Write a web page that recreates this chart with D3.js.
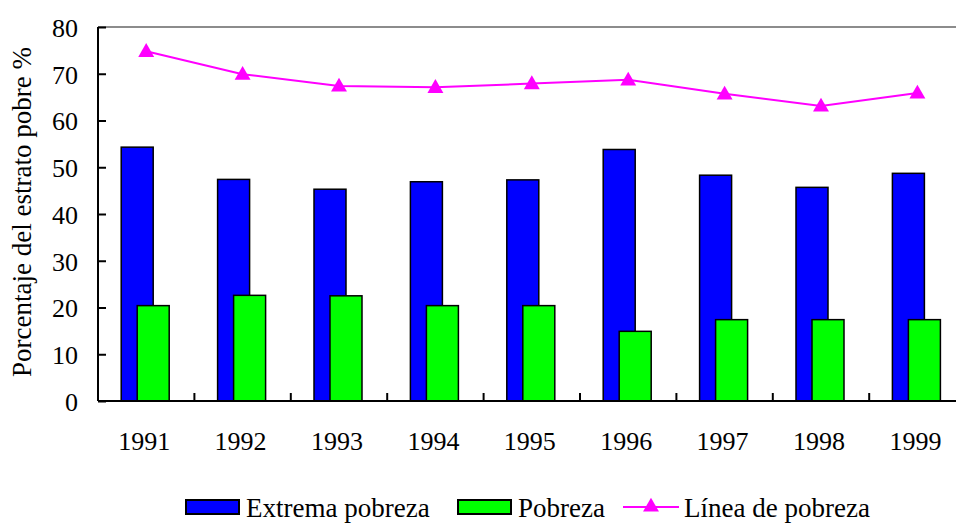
<!DOCTYPE html>
<html>
<head>
<meta charset="utf-8">
<script src="https://cdn.jsdelivr.net/npm/d3@7"></script>
<style>
  body { margin: 0; background: white; }
</style>
</head>
<body>
<div class="board"></div>
<script>
var width = 956, height = 523

// data
var years = ["1991", "1992", "1993", "1994", "1995", "1996", "1997", "1998", "1999"]
var extrema = [54.3, 47.4, 45.3, 46.9, 47.3, 53.8, 48.3, 45.7, 48.7]
var pobreza = [20.4, 22.6, 22.5, 20.4, 20.4, 14.9, 17.4, 17.4, 17.4]
var linea = [74.8, 69.9, 67.4, 67.1, 67.9, 68.7, 65.7, 63.1, 65.9]
var yTicks = [0, 10, 20, 30, 40, 50, 60, 70, 80]

PLOT_LEFT = 98
PLOT_TOP = 27
PLOT_BOTTOM = 401
BAND = 96.4
BAR_WIDTH = 32
FONT = 26
FAMILY = "'Liberation Serif', 'Times New Roman', Times, serif"

var svg = d3.select(".board")
    .append("svg")
    .attr("width", width)
    .attr("height", height)
    .attr("font-family", FAMILY)

var x = d3.scaleBand()
    .domain(years)
    .range([PLOT_LEFT, PLOT_LEFT + BAND * years.length])
    .padding(0)

var y = d3.scaleLinear()
    .domain([0, 80])
    .range([PLOT_BOTTOM, PLOT_TOP])

// top border of plot area
svg.append("line")
    .attr("x1", PLOT_LEFT)
    .attr("x2", width)
    .attr("y1", y(80))
    .attr("y2", y(80))
    .attr("stroke", "#8c8c8c")
    .attr("stroke-width", 2)

// bars
var center = d => x(d) + x.bandwidth() / 2

svg.selectAll(".extrema")
    .data(years)
    .enter()
    .append("rect")
    .attr("fill", "#0000ff")
    .attr("stroke", "black")
    .attr("stroke-width", 1.5)
    .attr("x", d => center(d) - 25)
    .attr("y", (d, i) => y(extrema[i]))
    .attr("width", BAR_WIDTH)
    .attr("height", (d, i) => y(0) - y(extrema[i]))

svg.selectAll(".pobreza")
    .data(years)
    .enter()
    .append("rect")
    .attr("fill", "#00ff00")
    .attr("stroke", "black")
    .attr("stroke-width", 1.5)
    .attr("x", d => center(d) - 9)
    .attr("y", (d, i) => y(pobreza[i]))
    .attr("width", BAR_WIDTH)
    .attr("height", (d, i) => y(0) - y(pobreza[i]))

// line
var lineGen = d3.line()
    .x((d, i) => center(years[i]))
    .y(d => y(d))

svg.append("path")
    .datum(linea)
    .attr("fill", "none")
    .attr("stroke", "#ff00ff")
    .attr("stroke-width", 2)
    .attr("d", lineGen)

var tri = d3.symbol().type(d3.symbolTriangle).size(110)

svg.selectAll(".marker")
    .data(linea)
    .enter()
    .append("path")
    .attr("fill", "#ff00ff")
    .attr("d", tri)
    .attr("transform", (d, i) => `translate(${center(years[i])}, ${y(d) + 1})`)

// axes
var yAxis = svg.append("g")
    .attr("transform", `translate(${PLOT_LEFT}, 0)`)
    .call(d3.axisRight(y).tickValues(yTicks).tickSize(8).tickFormat(""))
yAxis.select(".domain").attr("stroke", "black").attr("stroke-width", 2)
    .attr("d", `M0,${PLOT_BOTTOM}V${PLOT_TOP}`)
yAxis.selectAll(".tick line").attr("stroke", "black").attr("stroke-width", 2)

svg.selectAll(".ylabel")
    .data(yTicks)
    .enter()
    .append("text")
    .attr("x", 78)
    .attr("y", d => y(d))
    .attr("dy", "0.38em")
    .attr("text-anchor", "end")
    .attr("font-size", FONT)
    .text(d => d)

var xAxis = svg.append("g")
    .attr("transform", `translate(0, ${PLOT_BOTTOM})`)
    .call(d3.axisTop(x).tickSize(0).tickFormat(""))
xAxis.select(".domain").attr("stroke", "black").attr("stroke-width", 2)
    .attr("d", `M${PLOT_LEFT},0H${width}`)

// category boundary ticks, pointing inward
svg.selectAll(".xtick")
    .data(years.slice(1))
    .enter()
    .append("line")
    .attr("x1", d => x(d))
    .attr("x2", d => x(d))
    .attr("y1", PLOT_BOTTOM)
    .attr("y2", PLOT_BOTTOM - 8)
    .attr("stroke", "black")
    .attr("stroke-width", 2)

svg.selectAll(".xlabel")
    .data(years)
    .enter()
    .append("text")
    .attr("x", d => center(d) - 2)
    .attr("y", 450)
    .attr("text-anchor", "middle")
    .attr("font-size", FONT)
    .text(d => d)

svg.append("text")
    .attr("transform", "translate(31, 212) rotate(-90)")
    .attr("text-anchor", "middle")
    .attr("font-size", 27)
    .text("Porcentaje del estrato pobre %")

// legend
var legend = svg.append("g")

legend.append("rect")
    .attr("x", 186).attr("y", 500)
    .attr("width", 53).attr("height", 14)
    .attr("fill", "#0000ff").attr("stroke", "black").attr("stroke-width", 2)
legend.append("text")
    .attr("x", 246).attr("y", 517)
    .attr("font-size", 27)
    .text("Extrema pobreza")

legend.append("rect")
    .attr("x", 458).attr("y", 500)
    .attr("width", 53).attr("height", 14)
    .attr("fill", "#00ff00").attr("stroke", "black").attr("stroke-width", 2)
legend.append("text")
    .attr("x", 518).attr("y", 517)
    .attr("font-size", 27)
    .text("Pobreza")

legend.append("line")
    .attr("x1", 623).attr("x2", 679)
    .attr("y1", 507).attr("y2", 507)
    .attr("stroke", "#ff00ff").attr("stroke-width", 2)
legend.append("path")
    .attr("d", tri)
    .attr("fill", "#ff00ff")
    .attr("transform", "translate(651, 507)")
legend.append("text")
    .attr("x", 684).attr("y", 517)
    .attr("font-size", 27)
    .text("Línea de pobreza")
</script>
</body>
</html>
